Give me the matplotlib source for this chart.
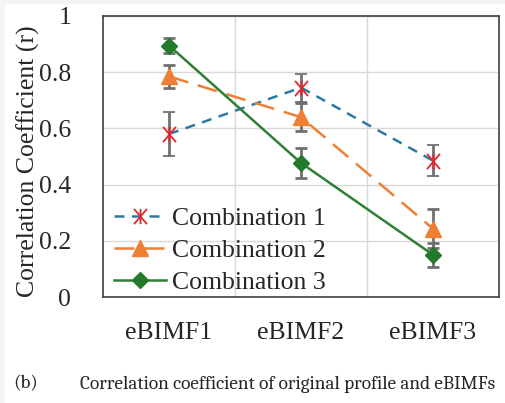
import matplotlib
matplotlib.use("Agg")
import matplotlib.pyplot as plt
from matplotlib.patches import Rectangle
from matplotlib.lines import Line2D
from matplotlib.path import Path
from matplotlib import font_manager as fm
import numpy as np

categories = ["eBIMF1", "eBIMF2", "eBIMF3"]
series_names = ["Combination 1", "Combination 2", "Combination 3"]
comb1 = [0.58, 0.745, 0.485]
comb1_err = [0.077, 0.05, 0.056]
comb2 = [0.785, 0.64, 0.243]
comb2_err = [0.042, 0.05, 0.07]
comb3 = [0.895, 0.477, 0.15]
comb3_err = [0.025, 0.055, 0.042]
yticks = [0, 0.2, 0.4, 0.6, 0.8, 1]
ytick_labels = ["0", "0.2", "0.4", "0.6", "0.8", "1"]
caption_tag = "(b)"
caption = "Correlation coefficient of original profile and eBIMFs"
ylabel = "Correlation Coefficient (r)"

installed = set(f.name for f in fm.fontManager.ttflist)
serif = "Liberation Serif"
cap_font = next((f for f in ["Caladea", "Noto Serif", "DejaVu Serif"] if f in installed), "DejaVu Serif")

# Excel-style star: an X with a vertical stroke
star = Path([(-0.85, -1), (0.85, 1), (-0.85, 1), (0.85, -1), (0, -1), (0, 1)],
            [Path.MOVETO, Path.LINETO, Path.MOVETO, Path.LINETO, Path.MOVETO, Path.LINETO])

W, H = 505, 403
fig = plt.figure(figsize=(W / 100, H / 100), dpi=100)
fig.patch.set_facecolor("white")
fig.patches.append(Rectangle((0, 0), 5 / W, 1, transform=fig.transFigure,
                             facecolor="#f3f4f6", edgecolor="none", zorder=-10))
fig.patches.append(Rectangle((0, 1 - 4 / H), 1, 4 / H, transform=fig.transFigure,
                             facecolor="#f3f4f6", edgecolor="none", zorder=-10))

ax = fig.add_axes([103 / W, 1 - 297 / H, 396 / W, 281 / H])
x = np.arange(len(categories)) + 0.5
fs = 18.5

errc = "#707070"
styles = [
    dict(color="#2b7aa0", lw=1.8, ls=(0, (4, 3)), marker=star, ms=11,
         mec="#e0282e", mfc="none", mew=1.3),
    dict(color="#ef7f35", lw=1.8, ls=(0, (8, 4)), marker="^", ms=11,
         mec="#ef7f35", mfc="#ef7f35"),
    dict(color="#2e8034", lw=1.8, ls="-", marker="D", ms=8,
         mec="#237a2a", mfc="#237a2a"),
]
values = [comb1, comb2, comb3]
errors = [comb1_err, comb2_err, comb3_err]
handles = []
for vals, errs, st, name in zip(values, errors, styles, series_names):
    ax.errorbar(x, vals, yerr=errs, ecolor=errc, elinewidth=2, capsize=4,
                capthick=2, zorder=3, **st)
    handles.append(Line2D([], [], **st))

ax.set_xlim(0, 3)
ax.set_ylim(0, 1)
ax.set_xticks(x)
ax.set_xticklabels(categories, fontfamily=serif, fontsize=fs, color="#262626")
ax.set_xticks([1, 2], minor=True)
ax.set_yticks(yticks)
ax.set_yticklabels(ytick_labels, fontfamily=serif, fontsize=fs, color="#262626")
ax.tick_params(axis="both", which="both", length=0)
ax.tick_params(axis="y", pad=23)
ax.tick_params(axis="x", pad=18)
ax.grid(True, axis="y", which="major", color="#d9d9d9", lw=1)
ax.grid(True, axis="x", which="minor", color="#d9d9d9", lw=1)
ax.set_axisbelow(True)
for s in ax.spines.values():
    s.set_color("#404040")
    s.set_linewidth(1.2)

fig.text(28 / W, 1 - 161 / H, ylabel, rotation=90, ha="center", va="center",
         fontfamily=serif, fontsize=fs, color="#262626")

leg = ax.legend(handles, series_names, loc="lower left", bbox_to_anchor=(-0.01, -0.045),
                frameon=False, prop={"family": serif, "size": fs}, handlelength=2.0,
                handletextpad=0.25, labelspacing=0.36, borderaxespad=0.2)
for t in leg.get_texts():
    t.set_color("#262626")

fig.text(13 / W, 1 - 384 / H, caption_tag, ha="left", va="center",
         fontfamily=cap_font, fontsize=13.9, color="#262626")
fig.text(80 / W, 1 - 384 / H, caption, ha="left", va="center",
         fontfamily=cap_font, fontsize=13.9, color="#262626")

fig.savefig("out.png", dpi=100, facecolor=fig.get_facecolor())
